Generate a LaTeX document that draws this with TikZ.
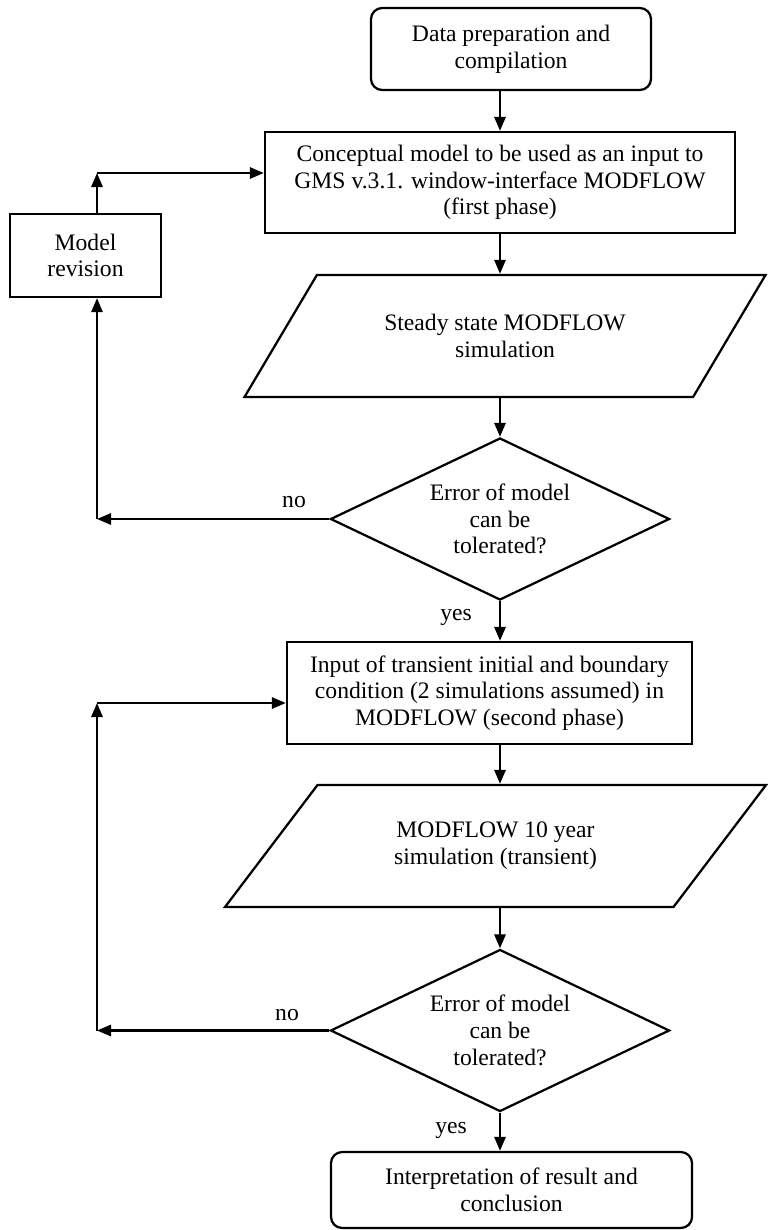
\documentclass[tikz,border=0pt]{standalone}
\usepackage{fontspec}
\setmainfont{Liberation Serif}
\usetikzlibrary{shapes.geometric,arrows.meta}

\tikzset{
  every node/.style={font=\fontsize{16.8}{19}\selectfont, align=center},
  terminal/.style={draw, line width=1.6pt, rounded corners=8pt, inner sep=0pt},
  process/.style={draw, line width=1.6pt, inner sep=0pt},
  iobox/.style={draw, line width=1.6pt, trapezium, trapezium stretches=true, inner sep=0pt},
  decision/.style={draw, line width=1.6pt, diamond, aspect=2, inner sep=0pt,
                   minimum width=8.475cm, minimum height=4.05cm},
  lbl/.style={inner sep=0pt},
  flow/.style={line width=1.7pt, -{Triangle[length=10pt,width=8pt]}},
}

\begin{document}
\begin{tikzpicture}[x=0.025cm, y=-0.025cm]
  \useasboundingbox (0,0) rectangle (770,1230);

  % Define nodes
  \node[terminal, minimum width=7cm, minimum height=2.05cm]          (data)    at (511,49)     {Data preparation and\\compilation};
  \node[process, minimum width=11.75cm, minimum height=2.525cm]      (concept) at (500,182.5)  {Conceptual model to be used as an input to\\GMS v.3.1. window-interface MODFLOW\\(first phase)};
  \node[process, minimum width=3.775cm, minimum height=2.075cm]      (rev)     at (85.5,255.5) {Model\\revision};
  \node[iobox, trapezium left angle=43, trapezium right angle=137,
        minimum width=13.05cm, minimum height=3.05cm]                (steady)  at (505,336)    {Steady state MODFLOW\\simulation};
  \node[decision]                                                    (dia1)    at (500,519)    {Error of model\\can be\\tolerated?};
  \node[process, minimum width=10.125cm, minimum height=2.55cm]      (input)   at (489.5,693)  {Input of transient initial and boundary\\condition (2 simulations assumed) in\\MODFLOW (second phase)};
  \node[iobox, trapezium left angle=42, trapezium right angle=138,
        minimum width=13.525cm, minimum height=3.05cm]               (transient) at (495.5,846) {MODFLOW 10 year\\simulation (transient)};
  \node[decision]                                                    (dia2)    at (500,1030.5) {Error of model\\can be\\tolerated?};
  \node[terminal, minimum width=9.025cm, minimum height=1.9cm]       (result)  at (511.5,1190) {Interpretation of result and\\conclusion};

  % Labels
  \node[lbl] (no-a)  at (294,502)  {no};
  \node[lbl] (yes-a) at (456,617)  {yes};
  \node[lbl] (no-b)  at (287,1015) {no};
  \node[lbl] (yes-b) at (451,1130) {yes};

  % Loop corners
  \coordinate (lane) at (97,0);
  \coordinate (no1)  at (dia1.west -| lane);
  \coordinate (up1)  at (97,173);
  \coordinate (no2)  at (dia2.west -| lane);
  \coordinate (up2)  at (97,703);

  % Connect the nodes
  \draw[flow] (concept.north |- data.south) -- (concept.north);
  \draw[flow] (concept.south) -- (concept.south |- steady.north);
  \draw[flow] (dia1.north |- steady.south) -- (dia1.north);
  \draw[flow] (dia1.south) -- (dia1.south |- input.north);
  \draw[flow] (dia1.south |- input.south) -- (dia1.south |- transient.north);
  \draw[flow] (dia2.north |- transient.south) -- (dia2.north);
  \draw[flow] (dia2.south) -- (dia2.south |- result.north);

  % Revision loops
  \draw[flow] (dia1.west) -- (no1);
  \draw[flow] (no1) -- (no1 |- rev.south);
  \draw[flow] (no1 |- rev.north) -- (up1);
  \draw[flow] (up1) -- (up1 -| concept.west);
  \draw[flow] (dia2.west) -- (no2);
  \draw[flow] (no2) -- (up2);
  \draw[flow] (up2) -- (up2 -| input.west);

\end{tikzpicture}
\end{document}
